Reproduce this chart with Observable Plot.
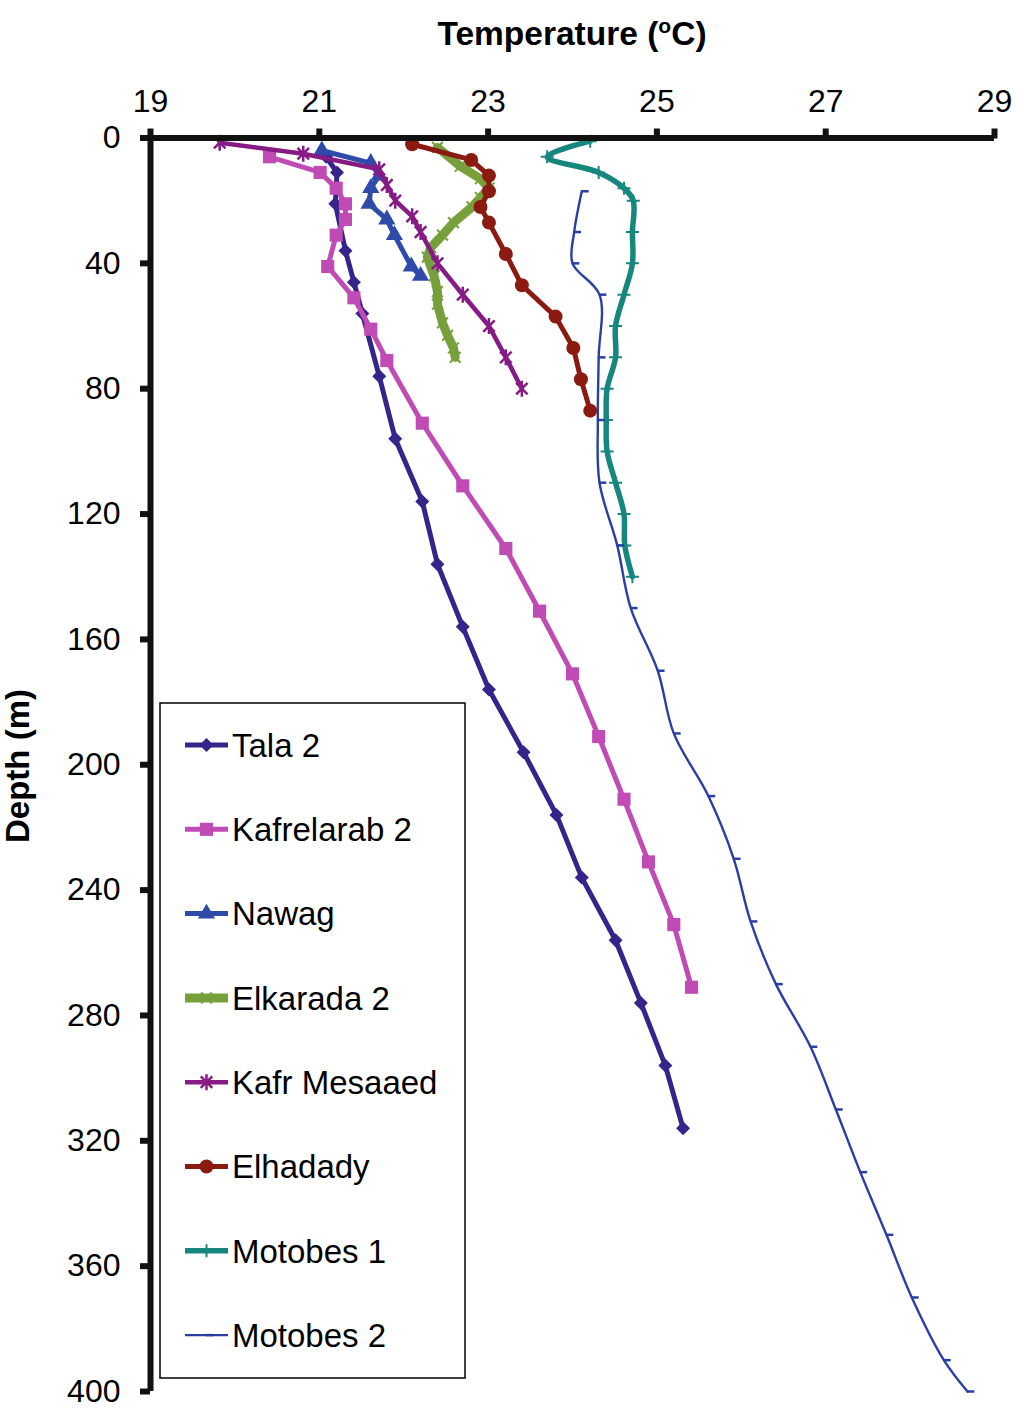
<!DOCTYPE html>
<html>
<head>
<meta charset="utf-8">
<script src="https://cdn.jsdelivr.net/npm/d3@7"></script>
<script src="https://cdn.jsdelivr.net/npm/@observablehq/plot@0.6"></script>
<style>
  body { margin: 0; background: #fff; }
  #chart { position: relative; width: 1017px; height: 1413px; }
</style>
</head>
<body>
<div id="chart"></div>
<script>
// ---------- data (depth in m, temperature in °C) ----------
const seriesNames = ["Tala 2", "Kafrelarab 2", "Nawag", "Elkarada 2", "Kafr Mesaaed", "Elhadady", "Motobes 1", "Motobes 2"];

const tala2Depth = [6, 11, 21, 36, 46, 56, 76, 96, 116, 136, 156, 176, 196, 216, 236, 256, 276, 296, 316];
const tala2Temp  = [21.08, 21.21, 21.19, 21.31, 21.41, 21.51, 21.71, 21.90, 22.22, 22.40, 22.70, 23.01, 23.42, 23.81, 24.11, 24.51, 24.81, 25.10, 25.31];

const kafrelarab2Depth = [6, 11, 16, 21, 26, 31, 41, 51, 61, 71, 91, 111, 131, 151, 171, 191, 211, 231, 251, 271];
const kafrelarab2Temp  = [20.41, 21.01, 21.20, 21.31, 21.31, 21.20, 21.10, 21.41, 21.61, 21.80, 22.22, 22.70, 23.21, 23.61, 24.00, 24.31, 24.61, 24.90, 25.20, 25.41];

const nawagDepth = [4, 8, 12, 16, 21, 26, 31, 41, 44];
const nawagTemp  = [21.03, 21.61, 21.71, 21.61, 21.59, 21.80, 21.89, 22.09, 22.20];

const elkarada2Depth = [3, 9, 13, 16, 19, 22, 27, 31, 35, 38, 44, 49, 53, 59, 63, 67, 70];
const elkarada2Temp  = [22.40, 22.67, 22.91, 23.01, 22.91, 22.81, 22.59, 22.46, 22.32, 22.28, 22.36, 22.40, 22.40, 22.46, 22.52, 22.59, 22.61];

const kafrMesaaedDepth = [1.5, 5, 10, 15, 20, 25, 30, 40, 50, 60, 70, 80];
const kafrMesaaedTemp  = [19.82, 20.81, 21.71, 21.80, 21.90, 22.10, 22.20, 22.40, 22.70, 23.01, 23.21, 23.40];

const elhadadyDepth = [2, 7, 12, 17, 22, 27, 37, 47, 57, 67, 77, 87];
const elhadadyTemp  = [22.10, 22.80, 23.01, 23.01, 22.91, 23.01, 23.21, 23.40, 23.80, 24.01, 24.10, 24.21];

const motobes1Depth = [1, 6, 11, 16, 20, 30, 40, 50, 60, 70, 80, 90, 100, 110, 120, 130, 140];
const motobes1Temp  = [24.21, 23.70, 24.31, 24.61, 24.72, 24.71, 24.71, 24.61, 24.51, 24.51, 24.41, 24.40, 24.41, 24.51, 24.61, 24.62, 24.71];

const motobes2Depth = [17, 30, 40, 50, 70, 90, 110, 130, 150, 170, 190, 210, 230, 250, 270, 290, 310, 330, 350, 370, 390, 400];
const motobes2Temp  = [24.11, 24.02, 24.00, 24.32, 24.31, 24.30, 24.32, 24.53, 24.69, 25.01, 25.20, 25.61, 25.91, 26.11, 26.41, 26.82, 27.12, 27.41, 27.72, 28.02, 28.40, 28.68];

const xTicks = [19, 21, 23, 25, 27, 29];
const yTicks = [0, 40, 80, 120, 160, 200, 240, 280, 320, 360, 400];

// ---------- custom marker shapes ----------
const rad = (size) => Math.sqrt(size / Math.PI);
const diamondSym = { draw(c, s) { const r = rad(s); c.moveTo(0, -r); c.lineTo(r, 0); c.lineTo(0, r); c.lineTo(-r, 0); c.closePath(); } };
const asteriskSym = { draw(c, s) { const r = rad(s), a = r * 0.72; c.moveTo(0, -r); c.lineTo(0, r); c.moveTo(-a, -a); c.lineTo(a, a); c.moveTo(-a, a); c.lineTo(a, -a); } };
const timesSym = { draw(c, s) { const a = rad(s) * 0.72; c.moveTo(-a, -a); c.lineTo(a, a); c.moveTo(-a, a); c.lineTo(a, -a); } };
const plusSym = { draw(c, s) { const r = rad(s); c.moveTo(-r, 0); c.lineTo(r, 0); c.moveTo(0, -r); c.lineTo(0, r); } };
const dashSym = { draw(c, s) { const r = rad(s); c.moveTo(-0.2 * r, 0); c.lineTo(1.8 * r, 0); } };

// ---------- series styling ----------
const series = [
  { name: seriesNames[0], depth: tala2Depth, temp: tala2Temp, color: "#35248a", width: 5, sym: diamondSym, r: 7, filled: true, curve: "linear" },
  { name: seriesNames[1], depth: kafrelarab2Depth, temp: kafrelarab2Temp, color: "#c04bb5", width: 5, sym: d3.symbolSquare, r: 7.4, filled: true, curve: "linear" },
  { name: seriesNames[2], depth: nawagDepth, temp: nawagTemp, color: "#2e4baa", width: 5, sym: d3.symbolTriangle, r: 6.4, filled: true, curve: "linear" },
  { name: seriesNames[3], depth: elkarada2Depth, temp: elkarada2Temp, color: "#77a03b", width: 9, sym: timesSym, r: 7.5, filled: false, sw: 2, curve: "linear" },
  { name: seriesNames[4], depth: kafrMesaaedDepth, temp: kafrMesaaedTemp, color: "#861b86", width: 4.6, sym: asteriskSym, r: 8, filled: false, sw: 2.5, curve: "linear" },
  { name: seriesNames[5], depth: elhadadyDepth, temp: elhadadyTemp, color: "#8b1a10", width: 5, sym: d3.symbolCircle, r: 7, filled: true, curve: "linear" },
  { name: seriesNames[6], depth: motobes1Depth, temp: motobes1Temp, color: "#15877f", width: 5.5, sym: plusSym, r: 6.5, filled: false, sw: 2, curve: "catmull-rom" },
  { name: seriesNames[7], depth: motobes2Depth, temp: motobes2Temp, color: "#2a3fa5", width: 2.4, sym: dashSym, r: 3.8, filled: false, sw: 2.5, curve: "catmull-rom" }
];

const rowsOf = (s) => s.depth.map((d, i) => ({ name: s.name, depth: d, temp: s.temp[i] }));

const dataMarks = series.flatMap((s) => {
  const rows = rowsOf(s);
  return [
    Plot.line(rows, { x: "temp", y: "depth", stroke: s.color, strokeWidth: s.width, curve: s.curve, strokeLinejoin: "round" }),
    Plot.dot(rows, s.filled
      ? { x: "temp", y: "depth", symbol: s.sym, r: s.r, fill: s.color, stroke: "none" }
      : { x: "temp", y: "depth", symbol: s.sym, r: s.r, fill: "none", stroke: s.color, strokeWidth: s.sw })
  ];
});

const chart = Plot.plot({
  width: 1017,
  height: 1413,
  marginLeft: 150,
  marginRight: 23,
  marginTop: 137.5,
  marginBottom: 22,
  style: { fontFamily: "'Liberation Sans', Arial, sans-serif", background: "#fff", color: "#000" },
  x: { domain: [19, 29] },
  y: { domain: [0, 400], reverse: true },
  marks: [
    ...dataMarks,
    Plot.ruleY([0], { stroke: "#111", strokeWidth: 6 }),
    Plot.ruleX([19], { stroke: "#111", strokeWidth: 6 }),
    Plot.axisX({ anchor: "top", ticks: xTicks, tickSize: 10, tickPadding: 16, fontSize: 32, strokeWidth: 6, stroke: "#111", label: null, tickFormat: (d) => String(d) }),
    Plot.axisY({ anchor: "left", ticks: yTicks, tickSize: 10, tickPadding: 20, fontSize: 32, strokeWidth: 6, stroke: "#111", label: null, tickFormat: (d) => String(d) })
  ]
});

document.getElementById("chart").appendChild(chart);

// ---------- titles and legend ----------
const svg = d3.select(chart);
const font = "'Liberation Sans', Arial, sans-serif";

const title = svg.append("text")
  .attr("x", 572).attr("y", 45)
  .attr("text-anchor", "middle")
  .attr("font-family", font).attr("font-size", 33.5).attr("font-weight", "bold").attr("fill", "#000");
title.append("tspan").text("Temperature (");
title.append("tspan").attr("font-size", 21).attr("dy", -12).text("o");
title.append("tspan").attr("dy", 12).text("C)");

svg.append("text")
  .attr("transform", "translate(29,766) rotate(-90)")
  .attr("text-anchor", "middle")
  .attr("font-family", font).attr("font-size", 33).attr("font-weight", "bold").attr("fill", "#000")
  .text("Depth (m)");

const lg = svg.append("g").attr("text-anchor", "start");
lg.append("rect").attr("x", 160).attr("y", 703).attr("width", 305).attr("height", 675)
  .attr("fill", "#fff").attr("stroke", "#000").attr("stroke-width", 1.5);

series.forEach((s, i) => {
  const y = 745 + i * 84.3;
  const g = lg.append("g");
  g.append("line").attr("x1", 185).attr("x2", 228).attr("y1", y).attr("y2", y)
    .attr("stroke", s.color).attr("stroke-width", s.width);
  const path = d3.symbol(s.sym, Math.PI * s.r * s.r)();
  const p = g.append("path").attr("d", path).attr("transform", `translate(206.5,${y})`);
  if (s.filled) p.attr("fill", s.color);
  else p.attr("fill", "none").attr("stroke", s.color).attr("stroke-width", s.sw);
  g.append("text").attr("x", 232).attr("y", y).attr("dy", "0.36em")
    .attr("text-anchor", "start")
    .attr("font-family", font).attr("font-size", 33).attr("fill", "#000")
    .text(s.name);
});
</script>
</body>
</html>
